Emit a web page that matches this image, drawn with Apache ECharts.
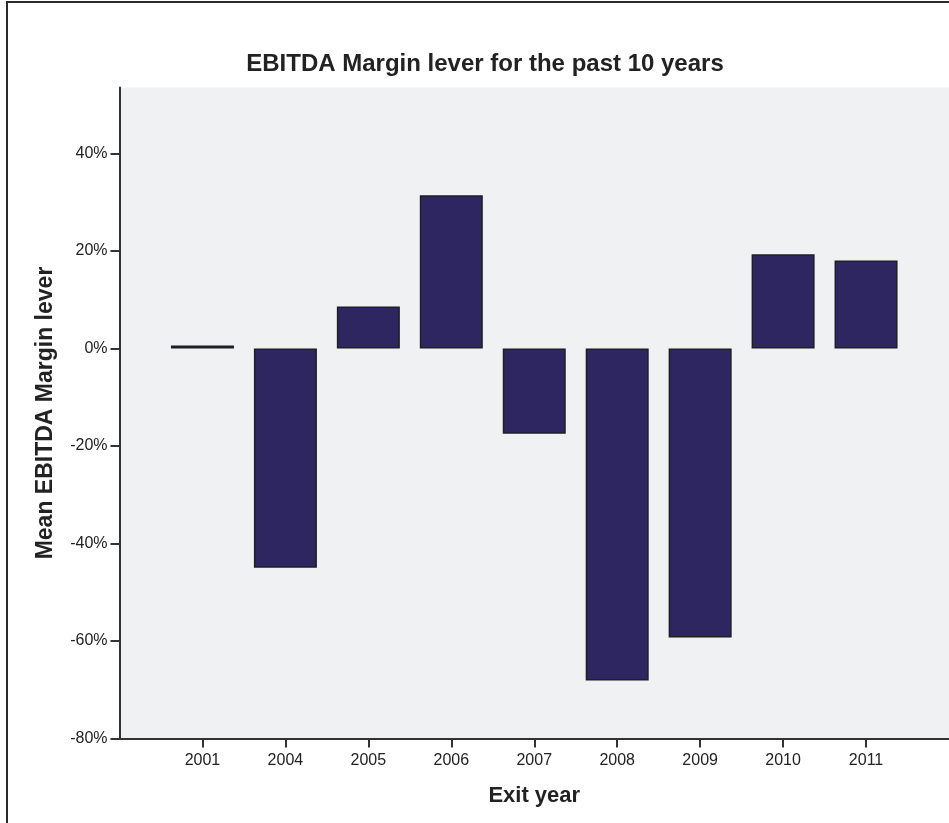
<!DOCTYPE html>
<html>
<head>
<meta charset="utf-8">
<script src="https://cdn.jsdelivr.net/npm/echarts@6/dist/echarts.min.js"></script>
<style>
html,body{margin:0;padding:0;background:#fff;}
#chart{width:949px;height:823px;}
</style>
</head>
<body>
<div id="chart"></div>
<script>
var chartTitle = 'EBITDA Margin lever for the past 10 years';
var xAxisTitle = 'Exit year';
var yAxisTitle = 'Mean EBITDA Margin lever';
var years = ['2001', '2004', '2005', '2006', '2007', '2008', '2009', '2010', '2011'];
var meanMargin = [0.6, -45.0, 8.6, 31.4, -17.5, -68.1, -59.3, 19.3, 18.0];
var yTicks = [-80, -60, -40, -20, 0, 20, 40];

// pad with one empty slot on each side (reference leaves a full slot of space at both ends)
var cats = [''].concat(years).concat(['']);
var vals = [null].concat(meanMargin).concat([null]);

var chart = echarts.init(document.getElementById('chart'), null, {renderer: 'canvas'});
chart.setOption({
  animation: false,
  backgroundColor: '#ffffff',
  textStyle: {fontFamily: 'Liberation Sans, Arial, sans-serif'},
  title: {
    text: chartTitle,
    left: 480,
    top: 47,
    textAlign: 'center',
    textStyle: {fontFamily: 'Liberation Sans, Arial, sans-serif', fontSize: 24, fontWeight: 'bold', color: '#222'}
  },
  graphic: [{
    type: 'rect',
    shape: {x: 7, y: 2, width: 1200, height: 1200},
    style: {fill: 'none', stroke: '#2a2a2a', lineWidth: 2},
    silent: true
  }],
  grid: {left: 119.5, top: 87.5, right: -1, bottom: 84.5, show: true, backgroundColor: '#f0f1f3', borderWidth: 0},
  xAxis: {
    type: 'category',
    data: cats,
    boundaryGap: false,
    name: xAxisTitle,
    nameLocation: 'middle',
    nameGap: 46,
    nameTextStyle: {fontSize: 22, fontWeight: 'bold', color: '#222'},
    axisLine: {onZero: false, lineStyle: {color: '#333', width: 2}},
    axisTick: {show: true, length: 9, lineStyle: {color: '#333', width: 2},
      interval: function (idx, val) { return val !== ''; }},
    axisLabel: {fontSize: 16, color: '#222', margin: 14,
      interval: function (idx, val) { return val !== ''; }},
    splitLine: {show: false}
  },
  yAxis: {
    type: 'value',
    min: -80,
    max: 53.5,
    interval: 20,
    name: yAxisTitle,
    nameLocation: 'middle',
    nameGap: 62,
    nameTextStyle: {fontSize: 23, fontWeight: 'bold', color: '#222'},
    axisLine: {show: true, onZero: false, lineStyle: {color: '#333', width: 2}},
    axisTick: {show: true, length: 9, lineStyle: {color: '#333', width: 2}, customValues: yTicks},
    axisLabel: {fontSize: 16, color: '#222', margin: 12, customValues: yTicks,
      formatter: function (v) { return v + '%'; }},
    splitLine: {show: false}
  },
  series: [{
    type: 'bar',
    data: vals,
    barWidth: 63,
    itemStyle: {color: '#2d2660', borderColor: '#1e1e24', borderWidth: 1.5}
  }]
});
</script>
</body>
</html>
